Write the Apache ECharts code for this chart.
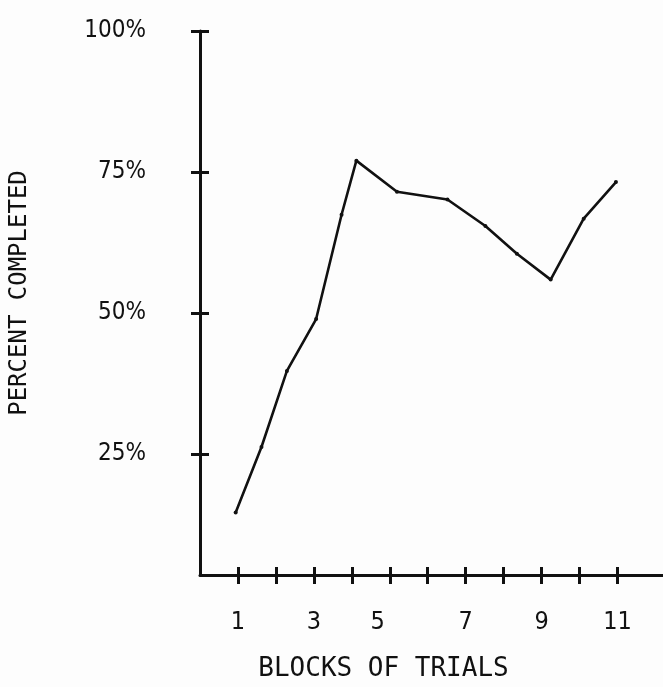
<!DOCTYPE html>
<html>
<head>
<meta charset="utf-8">
<script src="https://cdn.jsdelivr.net/npm/echarts@6/dist/echarts.min.js"></script>
<style>
  html, body { margin: 0; padding: 0; background: #fdfdfd; }
  #chart { width: 663px; height: 687px; }
</style>
</head>
<body>
<div id="chart"></div>
<script>
// Data
const blockX = [0.94, 1.62, 2.29, 3.06, 3.73, 4.12, 5.19, 6.52, 7.52, 8.35, 9.24, 10.11, 10.96];
const percentCompleted = [14.6, 26.2, 39.7, 48.9, 67.4, 77.0, 71.5, 70.1, 65.4, 60.5, 55.9, 66.7, 73.2];
const xTickValues = [1, 2, 3, 4, 5, 6, 7, 8, 9, 10, 11];
const xLabelValues = [1, 3, 5, 7, 9, 11];
const yTickValues = [25, 50, 75, 100];
const xTitle = 'BLOCKS OF TRIALS';
const yTitle = 'PERCENT COMPLETED';

const ink = '#111';
const narrow = '"Liberation Sans Narrow", "DejaVu Sans Condensed", "Liberation Sans", sans-serif';
const mono = '"DejaVu Sans Mono", "Liberation Mono", monospace';

const points = blockX.map((x, i) => [x, percentCompleted[i]]);

const chart = echarts.init(document.getElementById('chart'));
chart.setOption({
  backgroundColor: '#fdfdfd',
  animation: false,
  grid: { left: 198, right: 0, top: 31, bottom: 112, containLabel: false },
  xAxis: [
    {
      type: 'value', min: 0, max: 12.2, interval: 1, position: 'bottom',
      axisLine: { show: true, onZero: false, lineStyle: { color: ink, width: 3 } },
      axisTick: { show: true, inside: false, length: 9, customValues: xTickValues, lineStyle: { color: ink, width: 3 } },
      axisLabel: {
        show: true, customValues: xLabelValues, margin: 35, color: ink,
        fontFamily: narrow, fontSize: 25,
        formatter: v => v === 5 ? '{s|5}' : String(v),
        rich: { s: { fontFamily: narrow, fontSize: 25, color: ink, padding: [0, 24, 0, 0] } }
      },
      splitLine: { show: false },
      name: xTitle, nameLocation: 'middle', nameGap: 81,
      nameTextStyle: { fontFamily: mono, fontSize: 26, color: ink, padding: [0, 96, 0, 0] }
    },
    {
      type: 'value', min: 0, max: 12.2, interval: 1, position: 'bottom',
      axisLine: { show: false, onZero: false },
      axisTick: { show: true, inside: true, length: 8, customValues: xTickValues, lineStyle: { color: ink, width: 3 } },
      axisLabel: { show: false },
      splitLine: { show: false }
    }
  ],
  yAxis: [
    {
      type: 'value', min: 3.5, max: 100, position: 'left',
      axisLine: { show: true, onZero: false, lineStyle: { color: ink, width: 3 } },
      axisTick: { show: true, inside: false, length: 9, customValues: yTickValues, lineStyle: { color: ink, width: 3 } },
      axisLabel: {
        show: true, customValues: yTickValues, margin: 54, color: ink,
        fontFamily: narrow, fontSize: 24, formatter: '{value}%'
      },
      splitLine: { show: false },
      name: yTitle, nameLocation: 'middle', nameRotate: 90, nameGap: 168,
      nameTextStyle: { fontFamily: mono, fontSize: 24, color: ink, padding: [0, 0, 0, 20] }
    },
    {
      type: 'value', min: 3.5, max: 100, position: 'left',
      axisLine: { show: false, onZero: false },
      axisTick: { show: true, inside: true, length: 9, customValues: yTickValues, lineStyle: { color: ink, width: 3 } },
      axisLabel: { show: false },
      splitLine: { show: false }
    }
  ],
  series: [{
    type: 'line',
    xAxisIndex: 0, yAxisIndex: 0,
    data: points,
    symbol: 'circle', symbolSize: 4, showSymbol: true,
    itemStyle: { color: ink },
    lineStyle: { color: ink, width: 2.6 }
  }]
});
</script>
</body>
</html>
